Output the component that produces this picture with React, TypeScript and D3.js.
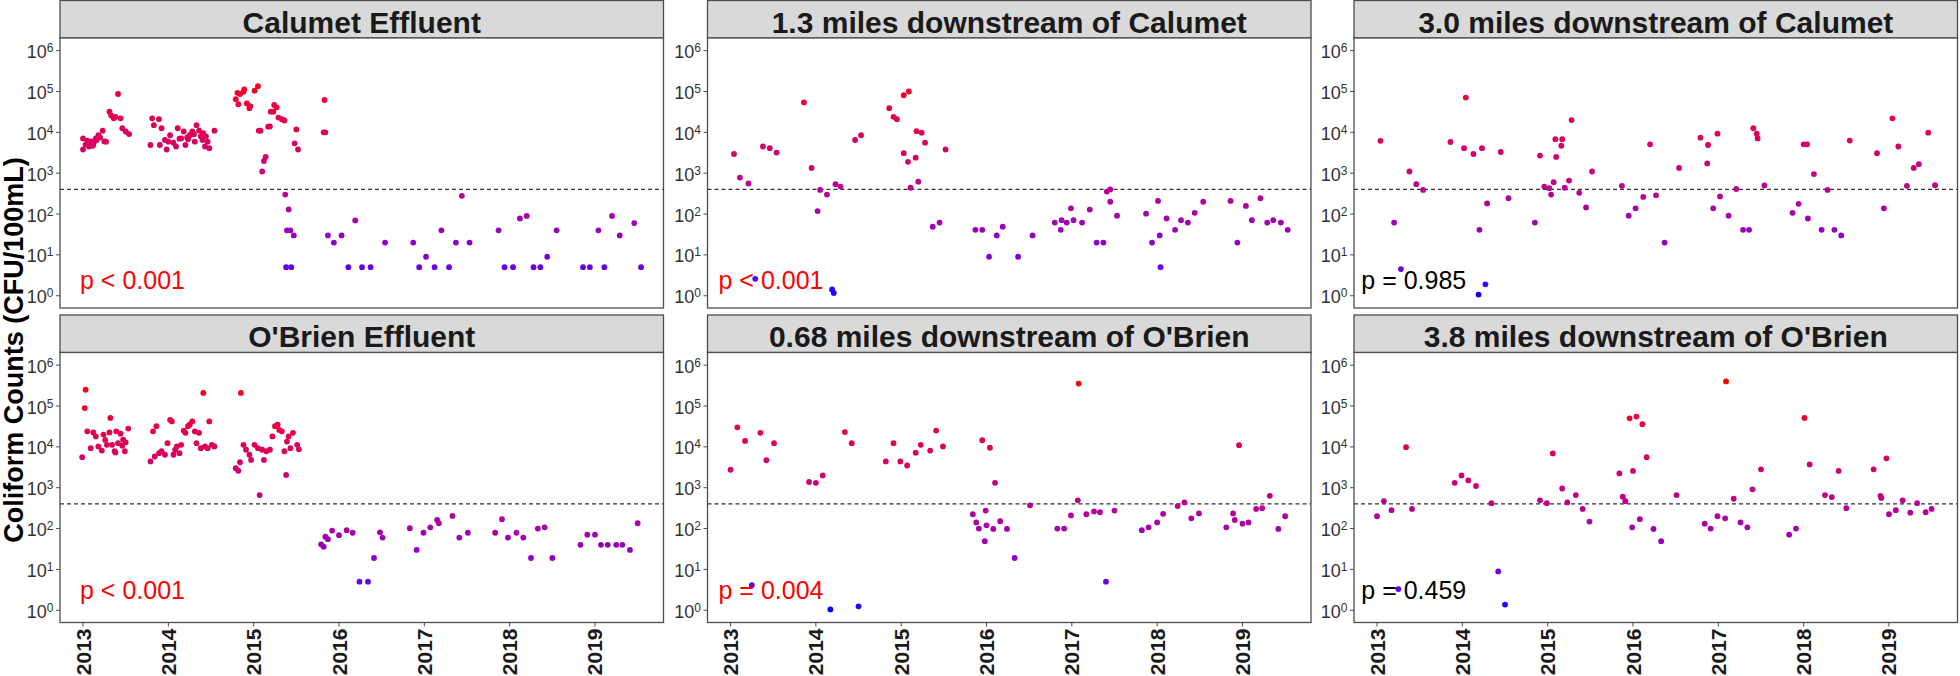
import React from "react";
import * as d3 from "d3";

// ---------- data: [decimal year, coliform count CFU/100mL] ----------
const calumetEffluent: [number, number][] = [
  [2013.0, 3800], [2013.0, 7100], [2013.03, 5000], [2013.05, 6300], [2013.07, 4500], [2013.09, 5400],
  [2013.1, 6000], [2013.11, 4700], [2013.12, 4900], [2013.13, 5900], [2013.15, 7100], [2013.16, 6500],
  [2013.18, 8500], [2013.2, 7500], [2013.23, 11000], [2013.25, 6000], [2013.27, 5900], [2013.31, 32000],
  [2013.33, 26000], [2013.36, 22000], [2013.38, 24000], [2013.41, 87000], [2013.44, 22000], [2013.46, 12600],
  [2013.5, 10500], [2013.54, 9100],
  [2013.79, 4900], [2013.81, 22000], [2013.83, 15000], [2013.89, 21000], [2013.9, 4900], [2013.92, 12600],
  [2013.96, 6500], [2013.98, 3800], [2014.0, 5900], [2014.02, 8500], [2014.06, 5600], [2014.09, 4500],
  [2014.11, 12600], [2014.13, 7000], [2014.15, 7100], [2014.18, 10500], [2014.2, 4900], [2014.22, 7500],
  [2014.23, 6800], [2014.25, 8500], [2014.28, 10500], [2014.3, 9000], [2014.31, 5900], [2014.33, 15000],
  [2014.36, 11000], [2014.38, 8000], [2014.4, 6500], [2014.41, 9500], [2014.43, 4500], [2014.44, 8000],
  [2014.46, 5900], [2014.48, 4100], [2014.54, 11000],
  [2014.79, 65000], [2014.81, 93000], [2014.82, 49000], [2014.84, 87000], [2014.88, 98000], [2014.89, 113000],
  [2014.92, 51000], [2014.95, 39000], [2014.96, 44000], [2015.01, 105000], [2015.05, 135000], [2015.06, 11000],
  [2015.08, 11000], [2015.1, 1100], [2015.12, 2000], [2015.14, 2500], [2015.17, 13800], [2015.19, 14000],
  [2015.2, 32000], [2015.23, 32000], [2015.24, 47000], [2015.27, 41000], [2015.29, 23000], [2015.33, 21000],
  [2015.36, 19500], [2015.48, 5400], [2015.5, 11800], [2015.52, 3800],
  [2015.37, 300], [2015.41, 130], [2015.39, 40], [2015.43, 40], [2015.47, 30], [2015.38, 5], [2015.44, 5],
  [2015.82, 10000], [2015.83, 62000], [2015.84, 10000],
  [2015.87, 30], [2015.94, 20], [2016.03, 30], [2016.11, 5], [2016.19, 70], [2016.27, 5], [2016.37, 5],
  [2016.54, 20], [2016.87, 20], [2016.94, 5], [2017.02, 9], [2017.12, 5], [2017.2, 40], [2017.29, 5],
  [2017.37, 20], [2017.44, 280], [2017.53, 20], [2017.87, 40], [2017.94, 5], [2018.04, 5], [2018.12, 78],
  [2018.2, 90], [2018.28, 5], [2018.36, 5], [2018.44, 9], [2018.55, 40], [2018.86, 5], [2018.94, 5],
  [2019.04, 40], [2019.11, 5], [2019.2, 90], [2019.29, 30], [2019.46, 60], [2019.54, 5],
];

const calumet13mi: [number, number][] = [
  [2013.04, 2950], [2013.11, 780], [2013.21, 560], [2013.29, 2.6], [2013.38, 4500], [2013.46, 4100],
  [2013.54, 3200], [2013.86, 54000], [2013.95, 1350], [2014.02, 118], [2014.05, 390], [2014.13, 300],
  [2014.19, 1.43], [2014.21, 1.17], [2014.23, 540], [2014.29, 470], [2014.46, 6500], [2014.53, 8500],
  [2014.86, 39000], [2014.91, 24000], [2014.95, 21000], [2015.03, 81000], [2015.09, 100000], [2015.03, 3100],
  [2015.08, 1900], [2015.11, 440], [2015.17, 2400], [2015.18, 10700], [2015.24, 9800], [2015.28, 5600],
  [2015.2, 620], [2015.37, 49], [2015.45, 62], [2015.52, 3800], [2015.87, 41], [2015.95, 41], [2016.03, 9],
  [2016.12, 30], [2016.19, 49], [2016.37, 9], [2016.54, 30], [2016.8, 62], [2016.87, 41], [2016.88, 71],
  [2016.94, 62], [2016.99, 138], [2017.02, 71], [2017.12, 62], [2017.21, 129], [2017.29, 20], [2017.37, 20],
  [2017.41, 355], [2017.45, 400], [2017.45, 200], [2017.53, 91], [2017.87, 102], [2017.94, 20], [2018.01, 209],
  [2018.03, 30], [2018.04, 5], [2018.11, 78], [2018.21, 41], [2018.28, 71], [2018.36, 62], [2018.44, 107],
  [2018.54, 200], [2018.86, 209], [2018.94, 20], [2019.04, 158], [2019.11, 71], [2019.21, 245], [2019.29, 62],
  [2019.36, 71], [2019.45, 62], [2019.53, 41],
];

const calumet30mi: [number, number][] = [
  [2013.04, 6200], [2013.2, 62], [2013.28, 4.5], [2013.38, 1100], [2013.46, 540], [2013.54, 390],
  [2013.86, 5800], [2014.02, 4100], [2014.04, 71000], [2014.13, 2950], [2014.2, 41], [2014.23, 4100],
  [2014.19, 1.07], [2014.27, 1.9], [2014.29, 182], [2014.45, 3300], [2014.54, 245], [2014.85, 62],
  [2014.91, 2700], [2014.96, 470], [2015.02, 430], [2015.04, 300], [2015.07, 600], [2015.09, 6800],
  [2015.1, 2500], [2015.17, 6800], [2015.16, 4700], [2015.2, 440], [2015.25, 660], [2015.28, 20000],
  [2015.37, 330], [2015.45, 145], [2015.52, 1100], [2015.87, 490], [2015.95, 91], [2016.03, 138],
  [2016.12, 263], [2016.2, 5100], [2016.27, 288], [2016.37, 20], [2016.54, 1350], [2016.79, 7400],
  [2016.87, 1740], [2016.88, 4900], [2016.94, 138], [2016.99, 9300], [2017.02, 270], [2017.12, 91],
  [2017.21, 410], [2017.29, 41], [2017.36, 41], [2017.41, 12600], [2017.45, 9300], [2017.46, 7100],
  [2017.54, 500], [2017.87, 107], [2017.94, 178], [2018.0, 5100], [2018.04, 5100], [2018.05, 78],
  [2018.12, 950], [2018.21, 41], [2018.28, 390], [2018.36, 41], [2018.44, 30], [2018.54, 6300],
  [2018.86, 3100], [2018.94, 138], [2019.04, 22000], [2019.11, 4500], [2019.21, 490], [2019.29, 1350],
  [2019.35, 1660], [2019.46, 9800], [2019.54, 510],
];

const obrienEffluent: [number, number][] = [
  [2012.99, 5600], [2013.02, 89000], [2013.03, 250000], [2013.05, 24000], [2013.09, 9300], [2013.12, 22500],
  [2013.15, 18000], [2013.18, 10200], [2013.22, 8100], [2013.24, 20000], [2013.26, 14800], [2013.28, 11200],
  [2013.31, 22500], [2013.32, 51000], [2013.34, 11200], [2013.37, 7800], [2013.38, 7300], [2013.39, 24000],
  [2013.41, 12300], [2013.44, 21000], [2013.46, 10700], [2013.47, 15000], [2013.49, 7800], [2013.5, 12900],
  [2013.53, 28000],
  [2013.79, 4400], [2013.82, 24000], [2013.84, 5800], [2013.86, 32000], [2013.89, 7000], [2013.92, 7800],
  [2013.96, 6400], [2013.99, 12300], [2014.02, 46000], [2014.04, 42000], [2014.06, 6400], [2014.08, 8500],
  [2014.1, 10200], [2014.13, 7000], [2014.15, 11200], [2014.18, 25000], [2014.2, 22000], [2014.23, 32000],
  [2014.25, 35000], [2014.28, 42000], [2014.31, 24000], [2014.33, 12300], [2014.36, 22000], [2014.38, 9300],
  [2014.41, 209000], [2014.43, 10200], [2014.46, 9300], [2014.48, 42000], [2014.51, 11200], [2014.54, 10200],
  [2014.79, 3000], [2014.82, 2600], [2014.84, 4200], [2014.85, 209000], [2014.88, 11200], [2014.91, 8500],
  [2014.95, 6400], [2014.97, 4800], [2015.01, 11200], [2015.05, 9300], [2015.07, 660], [2015.1, 8500],
  [2015.12, 4800], [2015.15, 7800], [2015.19, 8500], [2015.22, 18000], [2015.25, 32000], [2015.28, 35000],
  [2015.3, 26000], [2015.33, 24000], [2015.36, 7800], [2015.38, 2050], [2015.39, 13500], [2015.41, 18000],
  [2015.43, 9300], [2015.46, 22000], [2015.51, 11200], [2015.53, 8700],
  [2015.79, 41], [2015.82, 36], [2015.84, 63], [2015.87, 55], [2015.92, 89], [2016.0, 69], [2016.09, 91],
  [2016.16, 79], [2016.24, 5], [2016.34, 5], [2016.41, 19], [2016.48, 81], [2016.51, 60], [2016.83, 102],
  [2016.91, 30], [2016.99, 79], [2017.07, 107], [2017.15, 162], [2017.17, 135], [2017.33, 204], [2017.41, 60],
  [2017.51, 79], [2017.83, 79], [2017.91, 170], [2017.98, 60], [2018.08, 79], [2018.16, 60], [2018.25, 19],
  [2018.33, 100], [2018.41, 107], [2018.5, 19], [2018.83, 40], [2018.91, 71], [2019.0, 71], [2019.07, 40],
  [2019.15, 40], [2019.25, 40], [2019.32, 40], [2019.41, 30], [2019.5, 135],
];

const obrien068mi: [number, number][] = [
  [2013.0, 2750], [2013.08, 30000], [2013.17, 14000], [2013.25, 4.1], [2013.35, 22000], [2013.42, 4700],
  [2013.51, 12300], [2013.92, 1380], [2014.0, 1320], [2014.08, 2000], [2014.17, 1.05], [2014.34, 23000],
  [2014.42, 12300], [2014.5, 1.25], [2014.82, 4400], [2014.91, 12300], [2014.99, 4400], [2015.07, 3500],
  [2015.17, 7200], [2015.23, 11200], [2015.34, 8100], [2015.41, 25000], [2015.49, 10200], [2015.84, 224],
  [2015.88, 141], [2015.91, 100], [2015.95, 14500], [2015.99, 275], [2015.98, 49], [2016.0, 120],
  [2016.04, 9500], [2016.08, 98], [2016.1, 1320], [2016.16, 151], [2016.24, 98], [2016.33, 19],
  [2016.51, 370], [2016.83, 100], [2016.91, 100], [2016.99, 209], [2017.07, 490], [2017.08, 355000],
  [2017.17, 224], [2017.26, 263], [2017.33, 251], [2017.4, 5], [2017.5, 275], [2017.82, 91], [2017.9, 107],
  [2018.0, 141], [2018.07, 229], [2018.24, 355], [2018.32, 437], [2018.4, 178], [2018.49, 234],
  [2018.81, 107], [2018.89, 234], [2018.91, 162], [2018.96, 11000], [2019.0, 132], [2019.07, 141],
  [2019.16, 302], [2019.23, 316], [2019.32, 631], [2019.42, 98], [2019.5, 200],
];

const obrien38mi: [number, number][] = [
  [2013.0, 200], [2013.08, 470], [2013.17, 282], [2013.25, 3.3], [2013.34, 9800], [2013.41, 302],
  [2013.91, 1320], [2013.99, 2000], [2014.07, 1510], [2014.16, 1100], [2014.34, 417], [2014.42, 8.9],
  [2014.5, 1.38], [2014.91, 490], [2014.99, 417], [2015.06, 6900], [2015.17, 955], [2015.23, 437],
  [2015.33, 661], [2015.41, 302], [2015.49, 148], [2015.84, 2240], [2015.88, 603], [2015.91, 468],
  [2015.96, 50000], [2015.99, 107], [2016.0, 2570], [2016.04, 55000], [2016.08, 170], [2016.11, 36000],
  [2016.16, 5600], [2016.24, 98], [2016.33, 49], [2016.51, 661], [2016.84, 132], [2016.91, 100],
  [2016.99, 200], [2017.08, 178], [2017.09, 400000], [2017.18, 537], [2017.26, 141], [2017.34, 107],
  [2017.4, 912], [2017.5, 2820], [2017.83, 71], [2017.91, 100], [2018.01, 51000], [2018.07, 3720],
  [2018.25, 661], [2018.33, 589], [2018.41, 2570], [2018.5, 316], [2018.82, 2820], [2018.9, 631],
  [2018.91, 562], [2018.97, 5250], [2019.0, 224], [2019.08, 282], [2019.16, 490], [2019.25, 245],
  [2019.33, 417], [2019.43, 251], [2019.5, 302],
];

const panelTitles = [
  "Calumet Effluent",
  "1.3 miles downstream of Calumet",
  "3.0 miles downstream of Calumet",
  "O'Brien Effluent",
  "0.68 miles downstream of O'Brien",
  "3.8 miles downstream of O'Brien",
];
const pValueLabels = ["p < 0.001", "p < 0.001", "p = 0.985", "p < 0.001", "p = 0.004", "p = 0.459"];
const pSignificant = [true, true, false, true, true, false];
const panelData = [calumetEffluent, calumet13mi, calumet30mi, obrienEffluent, obrien068mi, obrien38mi];
const yearTicks = [2013, 2014, 2015, 2016, 2017, 2018, 2019];
const yExponents = [0, 1, 2, 3, 4, 5, 6];
const thresholdCount = 400;
const yAxisTitle = "Coliform Counts (CFU/100mL)";

// ---------- layout ----------
const WIDTH = 1960;
const HEIGHT = 676;
const PANEL_LEFTS = [60, 707.5, 1354];
const PANEL_W = 603.5;
const STRIP_TOPS = [0.5, 315];
const STRIP_H = 37.5;
const PANEL_H = 270;
const P_DX = [20, 11, 7.3];
const P_DY = [19, 23.5];
const FONT = "'Liberation Sans', Arial, Helvetica, sans-serif";

export default function App() {
  const x = d3.scaleLinear().domain([2012.73, 2019.803]).range([0, PANEL_W]);
  const y = d3.scaleLog().domain([Math.pow(10, -0.3), Math.pow(10, 6.31)]).range([PANEL_H, 0]);
  const allLogs = panelData.flat().map((d) => Math.log10(d[1]));
  const ext = d3.extent(allLogs) as [number, number];
  const color = d3
    .scaleLinear<string>()
    .domain(ext)
    .range(["#0000ff", "#ff0000"])
    .interpolate(d3.interpolateLab);

  return (
    <div style={{ position: "absolute", left: 0, top: 0 }}>
      <svg width={WIDTH} height={HEIGHT} style={{ display: "block", background: "#fff" }} fontFamily={FONT}>
        <rect x={0} y={0} width={WIDTH} height={HEIGHT} fill="#fff" />
        {panelData.map((data, i) => {
          const col = i % 3;
          const row = Math.floor(i / 3);
          const left = PANEL_LEFTS[col];
          const stripTop = STRIP_TOPS[row];
          const top = stripTop + STRIP_H;
          return (
            <g key={i}>
              <rect x={left} y={stripTop} width={PANEL_W} height={STRIP_H} fill="#d9d9d9" stroke="#4d4d4d" strokeWidth={1.3} />
              <text
                x={left + PANEL_W / 2}
                y={stripTop + 32}
                textAnchor="middle"
                fontSize={30}
                fontWeight="bold"
                fill="#1a1a1a"
              >
                {panelTitles[i]}
              </text>
              <g transform={`translate(${left},${top})`}>
                <rect x={0} y={0} width={PANEL_W} height={PANEL_H} fill="#fff" />
                <line
                  x1={0}
                  x2={PANEL_W}
                  y1={y(thresholdCount)}
                  y2={y(thresholdCount)}
                  stroke="#333"
                  strokeWidth={1.3}
                  strokeDasharray="4,3"
                />
                {data.map((d, j) => (
                  <circle key={j} cx={x(d[0])} cy={y(d[1])} r={2.9} fill={color(Math.log10(d[1]))} />
                ))}
                <text
                  x={P_DX[col]}
                  y={PANEL_H - P_DY[row]}
                  fontSize={25}
                  fill={pSignificant[i] ? "#ff0000" : "#000"}
                >
                  {pValueLabels[i]}
                </text>
                <rect x={0} y={0} width={PANEL_W} height={PANEL_H} fill="none" stroke="#4d4d4d" strokeWidth={1.3} />
                {yExponents.map((e) => {
                  const yy = y(Math.pow(10, e));
                  return (
                    <g key={e}>
                      <line x1={-4} x2={0} y1={yy} y2={yy} stroke="#4d4d4d" strokeWidth={1} />
                      <text x={-6.5} y={yy + 7.5} textAnchor="end" fontSize={18} fill="#333">
                        <tspan>10</tspan>
                        <tspan dy={-6} fontSize={12}>
                          {e}
                        </tspan>
                      </text>
                    </g>
                  );
                })}
                {row === 1 &&
                  yearTicks.map((yr) => {
                    const xx = x(yr);
                    return (
                      <g key={yr}>
                        <line x1={xx} x2={xx} y1={PANEL_H} y2={PANEL_H + 4} stroke="#4d4d4d" strokeWidth={1} />
                        <text
                          transform={`translate(${xx + 7.5},${PANEL_H + 6}) rotate(-90)`}
                          textAnchor="end"
                          fontSize={21}
                          fontWeight="bold"
                          fill="#1a1a1a"
                        >
                          {yr}
                        </text>
                      </g>
                    );
                  })}
              </g>
            </g>
          );
        })}
        <text
          transform={`translate(22.5,350) rotate(-90)`}
          textAnchor="middle"
          fontSize={27}
          fontWeight="bold"
          fill="#000"
        >
          {yAxisTitle}
        </text>
      </svg>
    </div>
  );
}
